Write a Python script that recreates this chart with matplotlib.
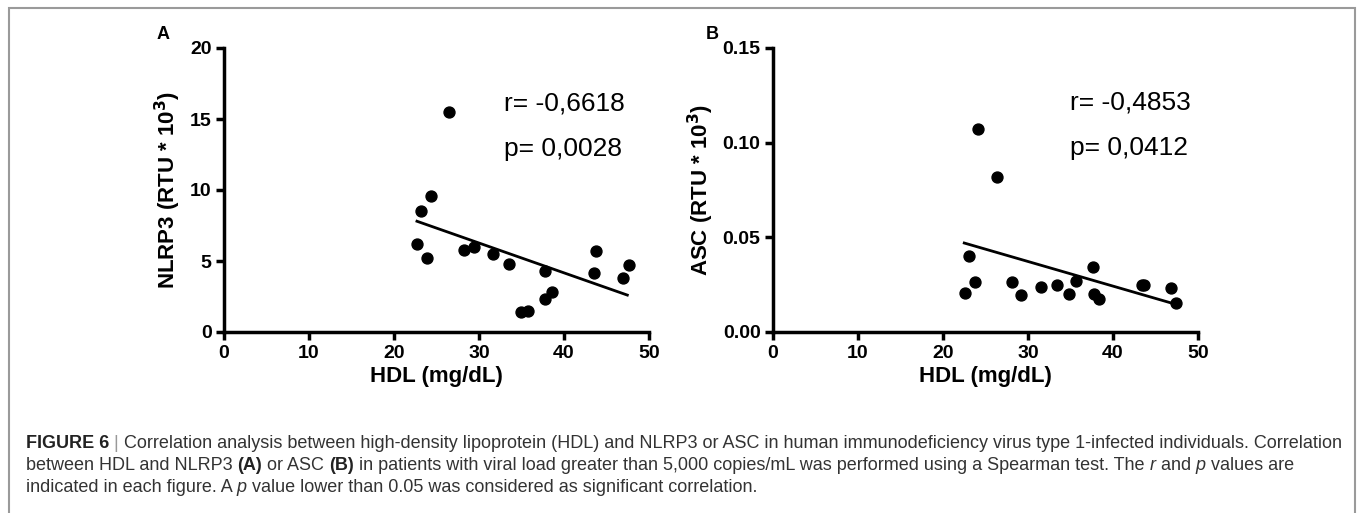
import numpy as np
import matplotlib.pyplot as plt
from matplotlib.patches import Rectangle

plt.rcParams['font.family'] = ['Liberation Sans', 'DejaVu Sans']

# panel A: HDL vs NLRP3
hdl_a = [22.7, 23.2, 23.9, 24.3, 26.5, 28.2, 29.4, 31.6, 33.5, 34.9, 35.8,
         37.8, 37.8, 38.6, 43.5, 43.8, 46.9, 47.6]
nlrp3 = [6.2, 8.54, 5.21, 9.55, 15.47, 5.8, 5.96, 5.5, 4.8, 1.38, 1.5,
         4.3, 2.3, 2.8, 4.18, 5.7, 3.8, 4.74]
fit_a_x = [22.7, 47.45]
fit_a_y = [7.8, 2.6]

# panel B: HDL vs ASC
hdl_b = [22.6, 23.1, 23.8, 24.1, 26.4, 28.1, 29.2, 31.5, 33.4, 34.8, 35.7,
         37.7, 37.8, 38.4, 43.4, 43.7, 46.8, 47.4]
asc = [0.0206, 0.0403, 0.0264, 0.1072, 0.0820, 0.0264, 0.0194, 0.0238, 0.0250,
       0.0199, 0.0271, 0.0345, 0.0199, 0.0176, 0.0246, 0.0250, 0.0231, 0.0155]
fit_b_x = [22.5, 47.1]
fit_b_y = [0.047, 0.015]

stats_a = ['r= -0,6618', 'p= 0,0028']
stats_b = ['r= -0,4853', 'p= 0,0412']

W, H = 1357, 513
fig = plt.figure(figsize=(W / 100, H / 100), dpi=100)

# grey frame round the figure
fig.add_artist(Rectangle((9 / W, -0.01), (1355 - 9) / W, (H - 7.5) / H + 0.01,
                         transform=fig.transFigure, fill=False,
                         edgecolor='#9a9a9a', linewidth=1.5))


def panel(left, x, y, fx, fy, ylim, yticks, yfmt, ylabel, letter, stats, spos):
    ax = fig.add_axes([left / W, (H - 332) / H, 425 / W, 284 / H])
    ax.scatter(x, y, s=62, color='black', zorder=3, clip_on=False)
    ax.plot(fx, fy, color='black', linewidth=2)
    ax.set_xlim(0, 50)
    ax.set_ylim(*ylim)
    ax.set_xticks([0, 10, 20, 30, 40, 50])
    ax.set_yticks(yticks)
    ax.set_yticklabels([yfmt.format(v) for v in yticks])
    for s in ['top', 'right']:
        ax.spines[s].set_visible(False)
    for s in ['left', 'bottom']:
        ax.spines[s].set_linewidth(2.5)
    ax.tick_params(width=2.5, length=6, labelsize=14, pad=3)
    for lab in ax.get_xticklabels() + ax.get_yticklabels():
        lab.set_fontweight('bold')
    ax.set_xlabel('HDL (mg/dL)', fontsize=16, fontweight='bold', labelpad=3)
    ax.set_ylabel(ylabel, fontsize=16, fontweight='bold', labelpad=5)
    ax.text(spos[0], spos[1], stats[0], fontsize=19, va='center')
    ax.text(spos[0], spos[2], stats[1], fontsize=19, va='center')
    fig.text((left - 61) / W, 1 - 35 / H, letter, fontsize=13,
             fontweight='bold', ha='center', va='center')
    return ax


panel(224, hdl_a, nlrp3, fit_a_x, fit_a_y, (0, 20), [0, 5, 10, 15, 20], '{:g}',
      r'NLRP3 (RTU * 10$^\mathbf{3}$)', 'A', stats_a, (33.0, 16.1, 12.9))
panel(773, hdl_b, asc, fit_b_x, fit_b_y, (0, 0.15), [0, 0.05, 0.10, 0.15],
      '{:.2f}', r'ASC (RTU * 10$^\mathbf{3}$)', 'B', stats_b,
      (34.9, 0.121, 0.0972))

# caption, written piece by piece so bold and italic parts can be mixed
caption = [
    [('FIGURE 6', 'bold', 'normal', '#222222'), (' | ', 'normal', 'normal', '#999999'),
     ('Correlation analysis between high-density lipoprotein (HDL) and NLRP3 or ASC in '
      'human immunodeficiency virus type 1-infected individuals. Correlation',
      'normal', 'normal', '#333333')],
    [('between HDL and NLRP3 ', 'normal', 'normal', '#333333'),
     ('(A)', 'bold', 'normal', '#222222'),
     (' or ASC ', 'normal', 'normal', '#333333'),
     ('(B)', 'bold', 'normal', '#222222'),
     (' in patients with viral load greater than 5,000 copies/mL was performed using a '
      'Spearman test. The ', 'normal', 'normal', '#333333'),
     ('r', 'normal', 'italic', '#333333'),
     (' and ', 'normal', 'normal', '#333333'),
     ('p', 'normal', 'italic', '#333333'),
     (' values are', 'normal', 'normal', '#333333')],
    [('indicated in each figure. A ', 'normal', 'normal', '#333333'),
     ('p', 'normal', 'italic', '#333333'),
     (' value lower than 0.05 was considered as significant correlation.',
      'normal', 'normal', '#333333')],
]
line_y = [444, 465.5, 487]
renderer = fig.canvas.get_renderer()
for pieces, yy in zip(caption, line_y):
    xx = 26
    for txt, weight, style, col in pieces:
        t = fig.text(xx / W, 1 - yy / H, txt, fontsize=13, fontweight=weight,
                     fontstyle=style, color=col, va='center')
        bb = t.get_window_extent(renderer=renderer)
        xx += bb.width

fig.savefig('out.png', dpi=100)
